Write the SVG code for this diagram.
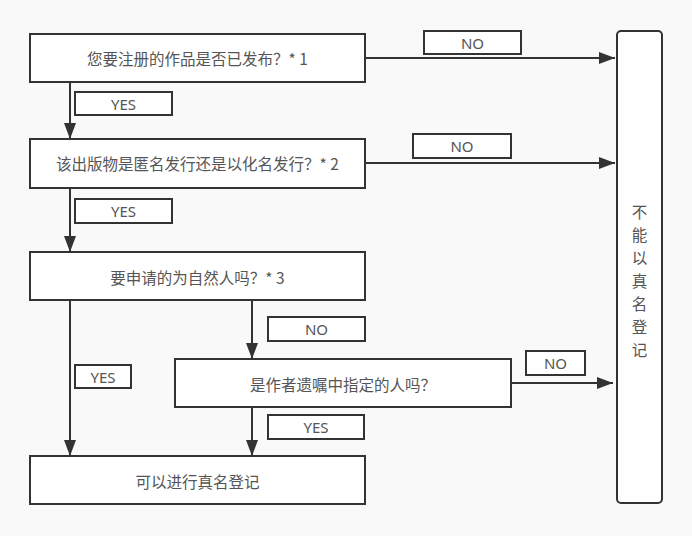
<svg xmlns="http://www.w3.org/2000/svg" width="692" height="536" viewBox="0 0 692 536">
<defs>
<style>
.box{fill:#fff;stroke:#333;stroke-width:2}
.lbl{fill:#fff;stroke:#333;stroke-width:2}
.t{font-family:"Noto Sans CJK SC","Noto Sans",sans-serif;font-size:15.5px;fill:#555;text-anchor:middle;dominant-baseline:central}
.lt{font-family:"Noto Sans","Liberation Sans",sans-serif;font-size:15px;fill:#555;text-anchor:middle;dominant-baseline:central}
.c{stroke:#333;stroke-width:2;fill:none}
</style>
<marker id="ah" viewBox="0 0 16 12" refX="16" refY="6" markerWidth="16" markerHeight="12" markerUnits="userSpaceOnUse" orient="auto">
<path d="M0,0 L16,6 L0,12 Z" fill="#333"/>
</marker>
</defs>
<rect width="692" height="536" fill="#f9f9f9"/>
<g id="connectors">
<path class="c" d="M365,58 H615" marker-end="url(#ah)"/>
<path class="c" d="M70,82 V139" marker-end="url(#ah)"/>
<path class="c" d="M365,163 H615" marker-end="url(#ah)"/>
<path class="c" d="M70,188 V252" marker-end="url(#ah)"/>
<path class="c" d="M252,300 V359" marker-end="url(#ah)"/>
<path class="c" d="M70,300 V456" marker-end="url(#ah)"/>
<path class="c" d="M511,383 H613" marker-end="url(#ah)"/>
<path class="c" d="M252,407 V456" marker-end="url(#ah)"/>
<rect class="lbl" x="424" y="31" width="97" height="23"/>
<text class="lt" x="472.5" y="43">NO</text>
<rect class="lbl" x="75" y="92" width="97" height="23"/>
<text class="lt" x="123.5" y="104">YES</text>
<rect class="lbl" x="413" y="134" width="98" height="24"/>
<text class="lt" x="462" y="146">NO</text>
<rect class="lbl" x="75" y="199" width="97" height="24"/>
<text class="lt" x="123.5" y="211">YES</text>
<rect class="lbl" x="268" y="317" width="97" height="24"/>
<text class="lt" x="316.5" y="329">NO</text>
<rect class="lbl" x="75" y="365" width="56" height="23"/>
<text class="lt" x="103" y="377">YES</text>
<rect class="lbl" x="526" y="351" width="59" height="24"/>
<text class="lt" x="555.5" y="363">NO</text>
<rect class="lbl" x="268" y="415" width="96" height="24"/>
<text class="lt" x="316" y="427">YES</text>
</g>
<g id="q1">
<rect class="box" x="30" y="34" width="335" height="48"/>
<text class="t" x="197.5" y="58">您要注册的作品是否已发布？* 1</text>
</g>
<g id="q2">
<rect class="box" x="30" y="139" width="335" height="49"/>
<text class="t" x="197.5" y="163">该出版物是匿名发行还是以化名发行？* 2</text>
</g>
<g id="q3">
<rect class="box" x="30" y="252" width="335" height="48"/>
<text class="t" x="197.5" y="277">要申请的为自然人吗？* 3</text>
</g>
<g id="q4">
<rect class="box" x="175" y="359" width="336" height="48"/>
<text class="t" x="343" y="384">是作者遗嘱中指定的人吗？</text>
</g>
<g id="yes">
<rect class="box" x="30" y="456" width="335" height="48"/>
<text class="t" x="197.5" y="481">可以进行真名登记</text>
</g>
<g id="no">
<rect class="box" x="617" y="31" width="45" height="472" rx="4"/>
<text class="t" x="639.5" y="211">不</text>
<text class="t" x="639.5" y="234">能</text>
<text class="t" x="639.5" y="257">以</text>
<text class="t" x="639.5" y="280">真</text>
<text class="t" x="639.5" y="303">名</text>
<text class="t" x="639.5" y="326">登</text>
<text class="t" x="639.5" y="349">记</text>
</g>
</svg>
